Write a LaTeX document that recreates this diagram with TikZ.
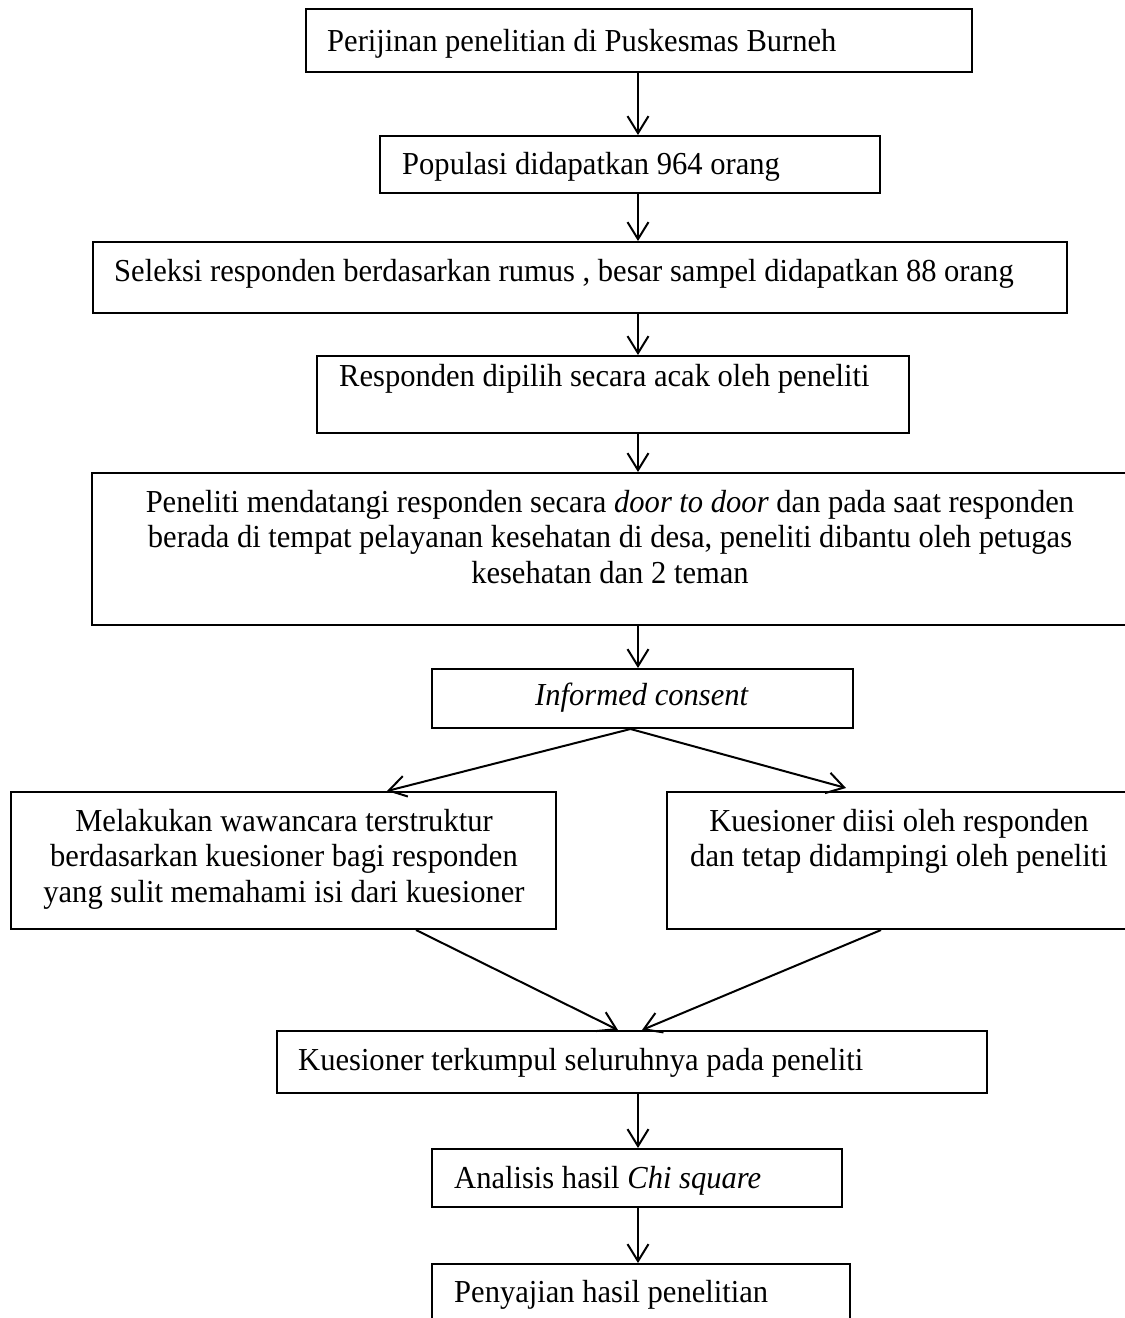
\documentclass[tikz,border=0pt]{standalone}
\usepackage{fontspec}
\setmainfont[FakeStretch=0.955]{Liberation Serif}
\usetikzlibrary{arrows.meta}
\tikzset{
  box/.style={draw, line width=2pt, rectangle, inner sep=0pt},
  txt/.style={inner sep=0pt, font=\fontsize{32}{35.5}\selectfont},
  ctxt/.style={txt, align=flush center, anchor=base},
  ltxt/.style={txt, anchor=base west},
  arr/.style={line width=2pt, -{Straight Barb[length=17pt,width=21pt,line width=2pt]}}
}
\begin{document}
\begin{tikzpicture}[x=1pt,y=-1pt]
\useasboundingbox (0,0) rectangle (1125,1318);
\coordinate (ax) at (638,0);
% boxes
\node[box, minimum width=666pt, minimum height=63pt]  (b1)  at (639,40.5) {};
\node[box, minimum width=500pt, minimum height=57pt]  (b2)  at (630,164.5) {};
\node[box, minimum width=974pt, minimum height=71pt]  (b3)  at (580,277.5) {};
\node[box, minimum width=592pt, minimum height=77pt]  (b4)  at (613,394.5) {};
\node[box, minimum width=1036pt, minimum height=152pt] (b5) at (610,549) {};
\node[box, minimum width=421pt, minimum height=59pt]  (b6)  at (642.5,698.5) {};
\node[box, minimum width=545pt, minimum height=137pt] (b7)  at (283.5,860.5) {};
\node[box, minimum width=464pt, minimum height=137pt] (b8)  at (899,860.5) {};
\node[box, minimum width=710pt, minimum height=62pt]  (b9)  at (632,1062) {};
\node[box, minimum width=410pt, minimum height=58pt]  (b10) at (637,1178) {};
\node[box, minimum width=418pt, minimum height=60pt]  (b11) at (641,1294) {};
% texts
\node[ltxt] (t1) at (327,51) {Perijinan penelitian di Puskesmas Burneh};
\node[ltxt] (t2) at (402,174) {Populasi didapatkan 964 orang};
\node[ltxt] (t3) at (114,281) {Seleksi responden berdasarkan rumus , besar sampel didapatkan 88 orang};
\node[ltxt] (t4) at (339,386) {Responden dipilih secara acak oleh peneliti};
\node[ctxt, text width=1010pt] (t5) at (610,512) {Peneliti mendatangi responden secara \textit{door to door} dan pada saat responden\\berada di tempat pelayanan kesehatan di desa, peneliti dibantu oleh petugas\\kesehatan dan 2 teman};
\node[ctxt] (t6) at (642,705) {\textit{Informed consent}};
\node[ctxt, text width=530pt] (t7) at (284,831) {Melakukan wawancara terstruktur\\berdasarkan kuesioner bagi responden\\yang sulit memahami isi dari kuesioner};
\node[ctxt, text width=450pt] (t8) at (899,831) {Kuesioner diisi oleh responden\\dan tetap didampingi oleh peneliti};
\node[ltxt] (t9) at (298,1070) {Kuesioner terkumpul seluruhnya pada peneliti};
\node[ltxt] (t10) at (454,1188) {Analisis hasil \textit{Chi square}};
\node[ltxt] (t11) at (454,1302) {Penyajian hasil penelitian};
% connectors
\draw[arr] (b1.south -| ax) -- (b2.north -| ax);
\draw[arr] (b2.south -| ax) -- (b3.north -| ax);
\draw[arr] (b3.south -| ax) -- (b4.north -| ax);
\draw[arr] (b4.south -| ax) -- (b5.north -| ax);
\draw[arr] (b5.south -| ax) -- (b6.north -| ax);
\draw[arr] ([xshift=-12pt]b6.south) -- ([xshift=103.5pt]b7.north);
\draw[arr] ([xshift=-12pt]b6.south) -- ([xshift=-53pt,yshift=3pt]b8.north);
\draw[arr] ([xshift=132.5pt]b7.south) -- ([xshift=-14pt]b9.north);
\draw[arr] ([xshift=-18pt]b8.south) -- ([xshift=10pt]b9.north);
\draw[arr] (b9.south -| ax) -- (b10.north -| ax);
\draw[arr] (b10.south -| ax) -- (b11.north -| ax);
\end{tikzpicture}
\end{document}
